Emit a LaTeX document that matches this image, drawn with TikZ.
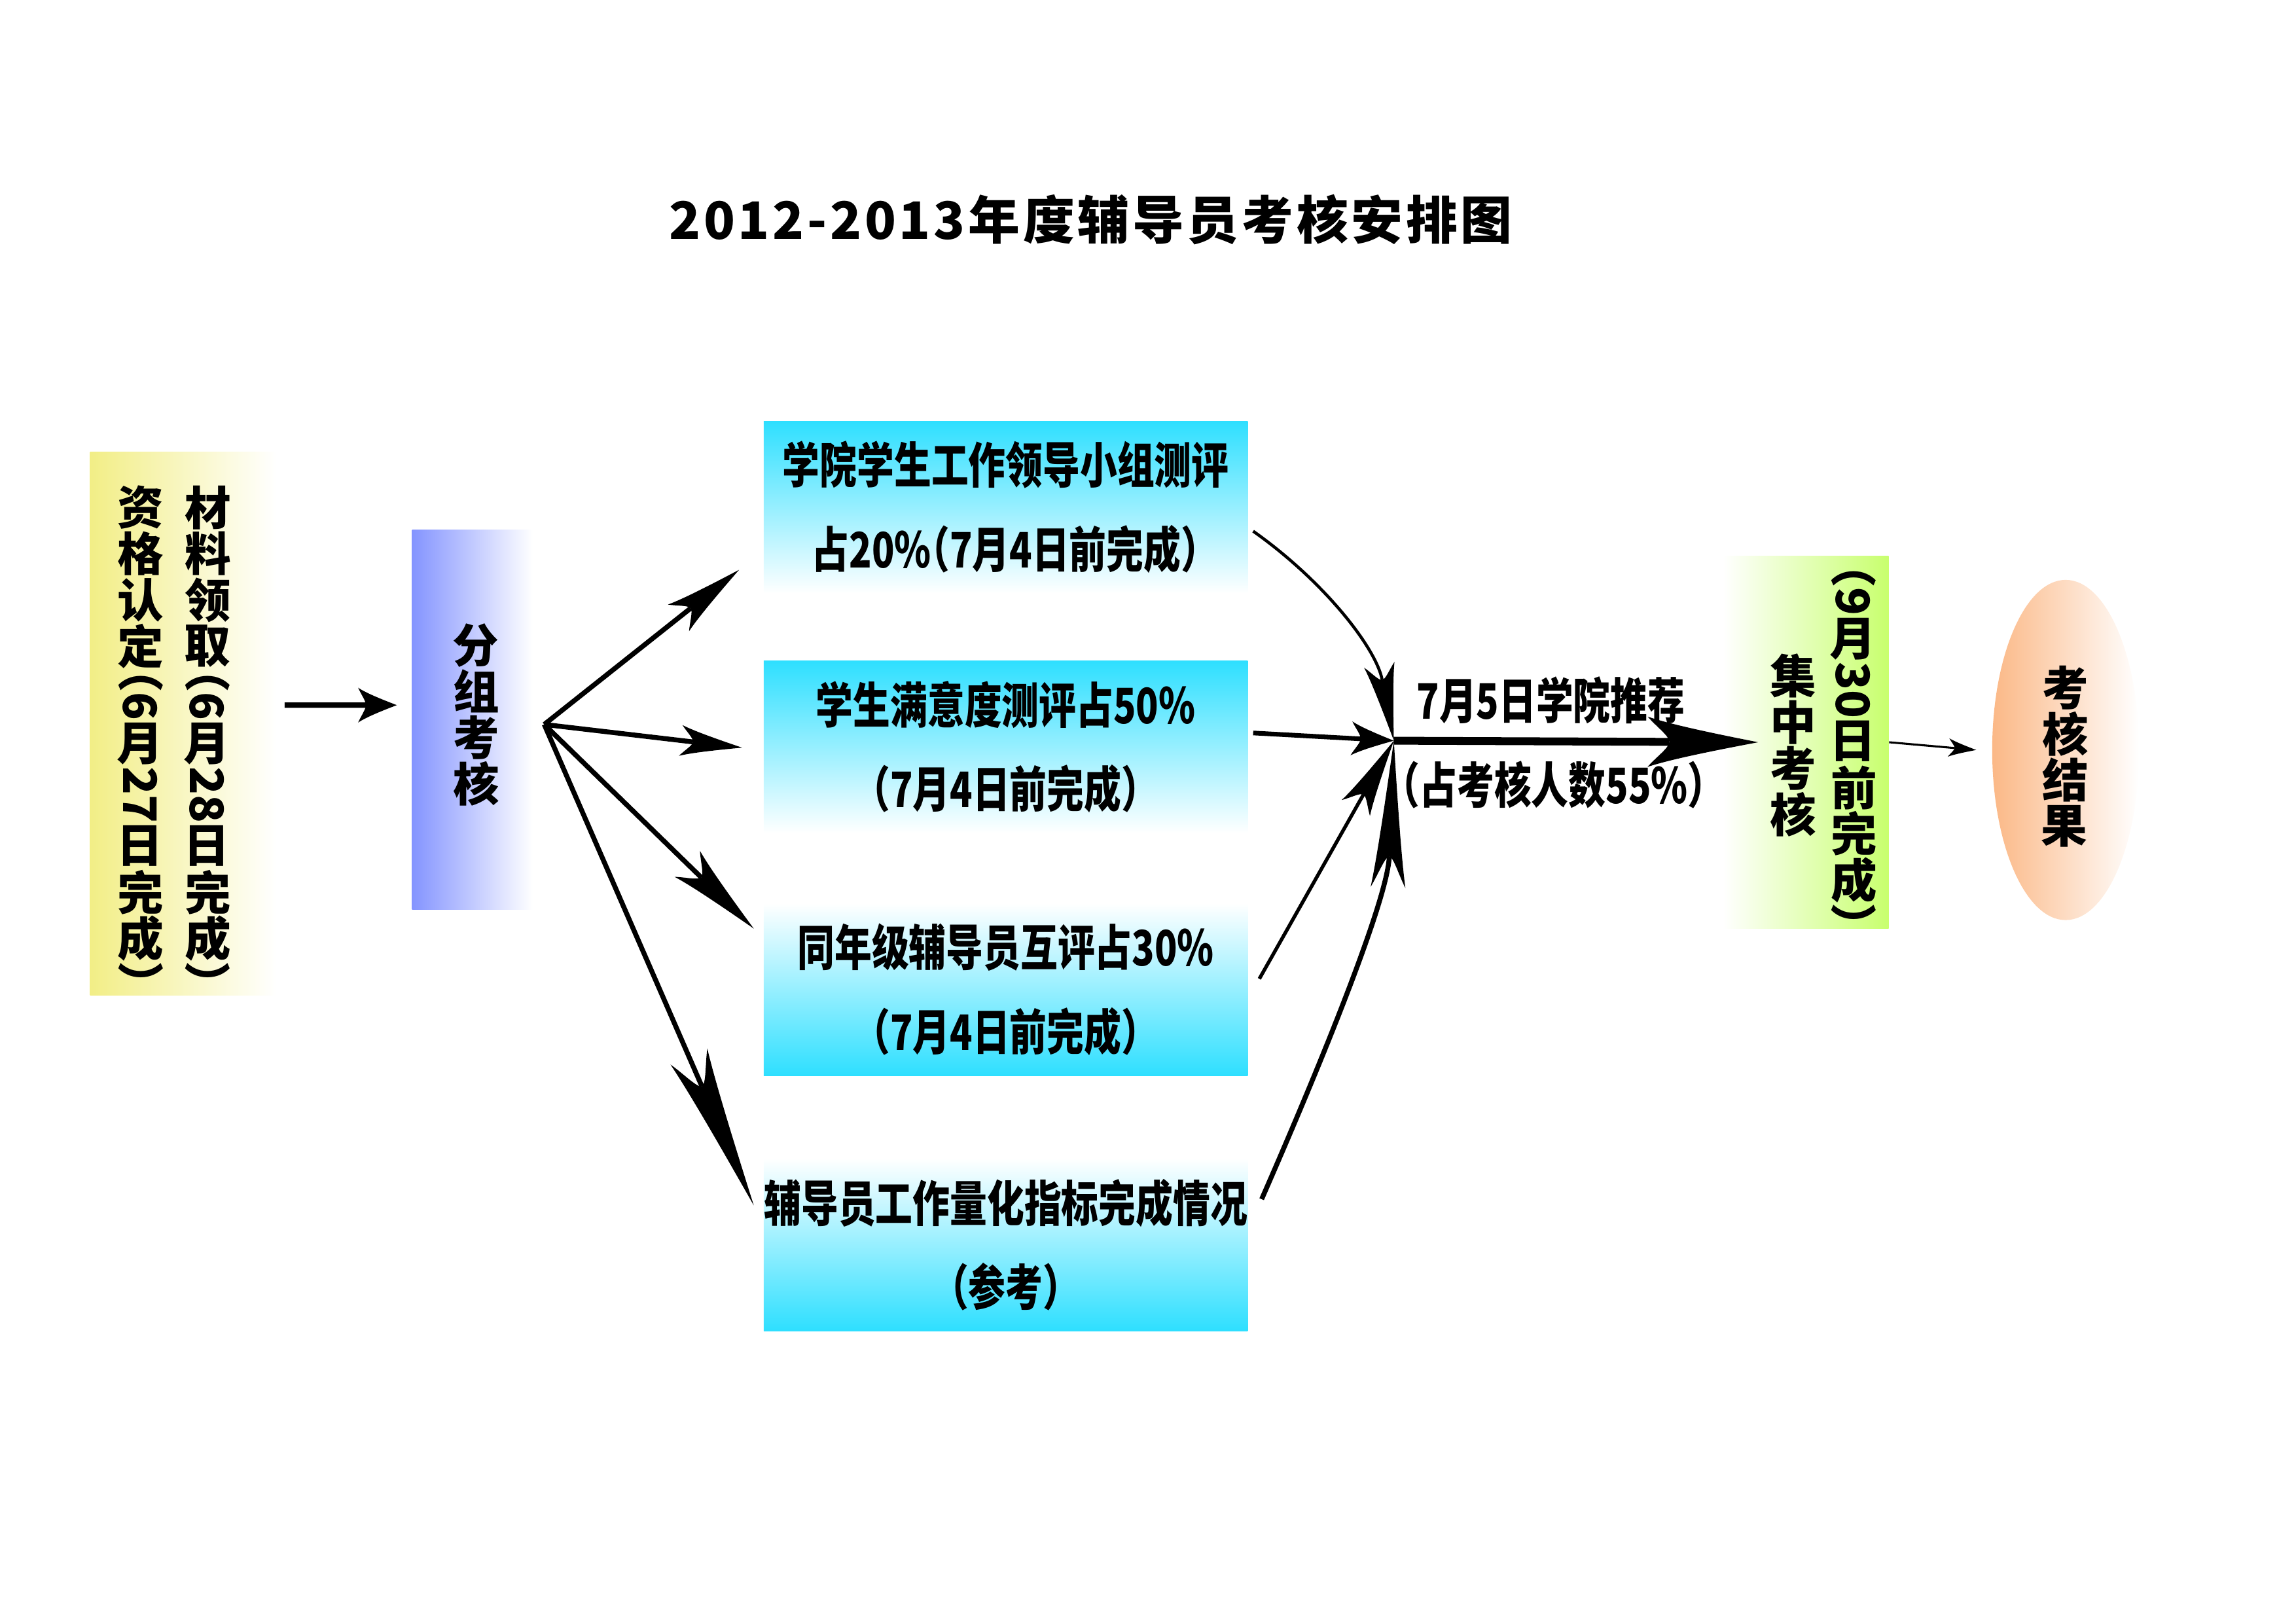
\documentclass[tikz,border=0pt]{standalone}
\usepackage{fontspec}
\usepackage{graphicx}
\usetikzlibrary{shapes.geometric, arrows.meta}
\newfontfamily\cjk{Noto Sans CJK SC}[RawFeature=+halt]
\newfontfamily\cjktitle{Noto Sans CJK SC}[LetterSpace=6]
\newfontfamily\cjknarrow{Noto Sans CJK SC}[FakeStretch=0.76, RawFeature=+halt]
\definecolor{yellowbox}{HTML}{F2EE86}
\definecolor{bluebox}{HTML}{8494FF}
\definecolor{cyanbox}{HTML}{2EDFFF}
\definecolor{greenbox}{HTML}{C8FF6E}
\definecolor{orangebox}{HTML}{FBB886}
\newcommand{\vch}[1]{\makebox[1em]{\rotatebox[origin=c]{90}{#1}}}
\newcommand{\vrun}[1]{\foreach \zi in {#1}{\vch{\zi}}}
\newdimen\sweptnotch
\newdimen\sweptmid
\pgfdeclarearrow{
  name = Swept,
  defaults = {length=1cm, width=.45cm, inset=.2cm},
  parameters = {\the\pgfarrowlength,\the\pgfarrowwidth,\the\pgfarrowinset},
  setup code = {
    \sweptnotch=\pgfarrowinset \advance\sweptnotch by -\pgfarrowlength
    \pgfarrowssettipend{0pt}
    \pgfarrowssetbackend{-\pgfarrowlength}
    \pgfarrowssetlineend{\sweptnotch}
    \pgfarrowssetvisualbackend{\sweptnotch}
    \pgfarrowshullpoint{0pt}{0pt}
    \pgfarrowsupperhullpoint{-\pgfarrowlength}{.5\pgfarrowwidth}
    \pgfarrowssavethe\pgfarrowlength
    \pgfarrowssavethe\pgfarrowwidth
    \pgfarrowssavethe\pgfarrowinset
  },
  drawing code = {
    \sweptnotch=\pgfarrowinset \advance\sweptnotch by -\pgfarrowlength
    \sweptmid=.4\pgfarrowinset \advance\sweptmid by -\pgfarrowlength
    \pgfpathmoveto{\pgfqpoint{0pt}{0pt}}
    \pgfpathcurveto{\pgfqpoint{-.4\pgfarrowlength}{.17\pgfarrowwidth}}{\pgfqpoint{-.8\pgfarrowlength}{.35\pgfarrowwidth}}{\pgfqpoint{-\pgfarrowlength}{.5\pgfarrowwidth}}
    \pgfpathcurveto{\pgfqpoint{\sweptmid}{.3\pgfarrowwidth}}{\pgfqpoint{\sweptnotch}{.12\pgfarrowwidth}}{\pgfqpoint{\sweptnotch}{0pt}}
    \pgfpathcurveto{\pgfqpoint{\sweptnotch}{-.12\pgfarrowwidth}}{\pgfqpoint{\sweptmid}{-.3\pgfarrowwidth}}{\pgfqpoint{-\pgfarrowlength}{-.5\pgfarrowwidth}}
    \pgfpathcurveto{\pgfqpoint{-.8\pgfarrowlength}{-.35\pgfarrowwidth}}{\pgfqpoint{-.4\pgfarrowlength}{-.17\pgfarrowwidth}}{\pgfqpoint{0pt}{0pt}}
    \pgfpathclose
    \pgfusepathqfill
  }
}
\tikzset{
  colbox/.style = {shape=rectangle, anchor=center, inner sep=0pt},
  stepbox/.style = {shape=rectangle, anchor=center,
                    minimum width=6.26cm, minimum height=2.23cm,
                    inner sep=0pt, align=center,
                    font=\cjknarrow\bfseries\fontsize{18pt}{31pt}\selectfont},
  vtext/.style = {rotate=-90, inner sep=0pt, align=center,
                  font={\cjk\bfseries\fontsize{17pt}{24.8pt}\selectfont\lineskiplimit=-50pt}},
  label/.style = {inner sep=0pt, font=\cjknarrow\bfseries\fontsize{18pt}{22pt}\selectfont},
  arrow/.style n args = {3}{line width=1.8pt, -{Swept[length=#1, width=#2, inset=#3]}}
}
\begin{document}
\begin{tikzpicture}
    \useasboundingbox (0,0) rectangle (29.7,-21);
    \node (title) [font=\cjktitle\bfseries\fontsize{19pt}{24pt}\selectfont] at (14.11,-2.84) {2012-2013年度辅导员考核安排图};

    \node (qual) [colbox, left color=yellowbox, right color=white, minimum width=2.41cm, minimum height=7.03cm] at (2.37,-9.36) {};
    \node (qualtext) [vtext, align=left] at (2.25,-9.50) {\vrun{材,料,领,取}（6\vch{月}28\vrun{日,完,成}）\\\vrun{资,格,认,定}（6\vch{月}27\vrun{日,完,成}）};
    \node (group) [colbox, left color=bluebox, right color=white, minimum width=1.56cm, minimum height=4.91cm] at (6.11,-9.31) {};
    \node (grouptext) [vtext] at (6.16,-9.24) {\vrun{分,组,考,核}};

    \node (b1) [stepbox, top color=cyanbox, bottom color=white] at (13.01,-6.56) {学院学生工作领导小组测评\\占20\%（7月4日前完成）};
    \node (b2) [stepbox, top color=cyanbox, bottom color=white] at (13.01,-9.66) {学生满意度测评占50\%\\（7月4日前完成）};
    \node (b3) [stepbox, top color=white, bottom color=cyanbox] at (13.01,-12.80) {同年级辅导员互评占30\%\\（7月4日前完成）};
    \node (b4) [stepbox, top color=white, bottom color=cyanbox] at (13.01,-16.10) {辅导员工作量化指标完成情况\\（参考）};

    \node (central) [colbox, left color=white, right color=greenbox, minimum width=2.14cm, minimum height=4.82cm] at (23.36,-9.60) {};
    \node (centraltext) [vtext, font={\cjk\bfseries\fontsize{17pt}{22.4pt}\selectfont\lineskiplimit=-50pt}] at (23.59,-9.64) {（9\vch{月}30\vrun{日,前,完,成}）\\\vrun{集,中,考,核}};
    \node (result) [shape=ellipse, left color=orangebox, right color=white, minimum width=1.9cm, minimum height=4.4cm, inner sep=0pt] at (26.72,-9.70) {};
    \node (resulttext) [vtext] at (26.71,-9.79) {\vrun{考,核,结,果}};

    \node (lab1) [label] at (20.06,-9.06) {7月5日学院推荐};
    \node (lab2) [label] at (20.10,-10.15) {（占考核人数55\%）};

    \coordinate (fan) at (7.04,-9.37);
    \coordinate (in1) at (9.56,-7.37);
    \coordinate (in2) at (9.60,-9.67);
    \coordinate (in3) at (9.75,-12.01);
    \coordinate (in4) at (9.75,-15.59);
    \coordinate (out1) at (16.21,-6.87);
    \coordinate (out2) at (16.21,-9.48);
    \coordinate (out3) at (16.29,-12.66);
    \coordinate (out4) at (16.32,-15.51);
    \coordinate (hub) at (18.03,-9.58);

    \draw [arrow={0.5cm}{0.45cm}{0.1cm}, line width=2pt] ([xshift=1mm,yshift=2.4mm]qual.east) -- ([xshift=-1.9mm,yshift=1.9mm]group.west);
    \draw [arrow={1.0cm}{0.44cm}{0.2cm}] (fan) -- (in1);
    \draw [arrow={0.8cm}{0.40cm}{0.16cm}] (fan) -- (in2);
    \draw [arrow={1.2cm}{0.47cm}{0.25cm}] (fan) -- (in3);
    \draw [arrow={2.1cm}{0.52cm}{0.42cm}] (fan) -- (in4);

    \draw [arrow={1.0cm}{0.40cm}{0.2cm}, line width=1.1pt] (out1) .. controls (17.13,-7.52) and (17.80,-8.38) .. (hub);
    \draw [arrow={0.55cm}{0.44cm}{0.12cm}, line width=1.7pt] (out2) -- (hub);
    \draw [arrow={1.0cm}{0.42cm}{0.2cm}, line width=1.3pt] (out3) -- (hub);
    \draw [arrow={1.9cm}{0.45cm}{0.4cm}] (out4) .. controls (17.2,-13.5) and (17.95,-11.6) .. (hub);

    \draw [arrow={1.43cm}{0.65cm}{0.28cm}, line width=2.9pt] (hub) -- ([xshift=4.6mm]central.west);
    \draw [arrow={0.36cm}{0.24cm}{0.08cm}, line width=0.75pt] (central.east) -- ([xshift=-2mm]result.west);
\end{tikzpicture}
\end{document}
